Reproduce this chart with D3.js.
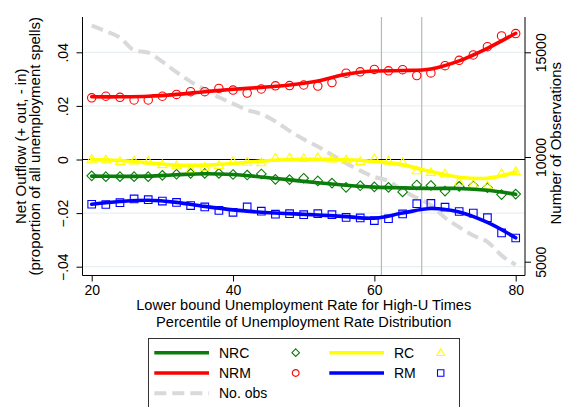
<!DOCTYPE html>
<html><head><meta charset="utf-8">
<script src="https://cdn.jsdelivr.net/npm/d3@7"></script>
<style>
body{margin:0;background:#fff}
svg{display:block}
text{font-family:"Liberation Sans",Arial,Helvetica,sans-serif;fill:#000;font-size:14px}
text.ttl{font-size:15px}
text.xttl{font-size:14.6px}
</style>
</head><body>
<svg id="c" width="585" height="407"></svg>
<script>
// ---- data ----
const pctPoints = [20,22,24,26,28,30,32,34,36,38,40,42,44,46,48,50,52,54,56,58,60,62,64,66,68,70,72,74,76,78,80];
const nrcPts = [-0.0061,-0.0064,-0.0064,-0.0064,-0.0064,-0.0059,-0.0055,-0.0052,-0.0052,-0.0052,-0.0056,-0.0058,-0.0054,-0.0074,-0.0075,-0.0070,-0.0080,-0.0088,-0.0104,-0.0098,-0.0102,-0.0104,-0.0121,-0.0095,-0.0097,-0.0118,-0.0100,-0.0098,-0.0105,-0.0131,-0.0129];
const nrmPts = [0.0230,0.0236,0.0232,0.0222,0.0222,0.0236,0.0243,0.0253,0.0253,0.0265,0.0259,0.0248,0.0263,0.0275,0.0276,0.0278,0.0274,0.0287,0.0322,0.0327,0.0336,0.0331,0.0335,0.0313,0.0323,0.0350,0.0370,0.0390,0.0421,0.0461,0.0470];
const rcPts = [0.0002,0.0000,-0.0006,-0.0004,-0.0005,-0.0018,-0.0022,-0.0036,-0.0028,-0.0021,-0.0006,-0.0009,-0.0011,0.0007,0.0007,0.0005,0.0009,0.0003,-0.0001,-0.0006,0.0004,-0.0004,-0.0010,-0.0041,-0.0047,-0.0052,-0.0084,-0.0091,-0.0097,-0.0051,-0.0044];
const rmPts = [-0.0167,-0.0168,-0.0161,-0.0147,-0.0150,-0.0155,-0.0160,-0.0172,-0.0177,-0.0190,-0.0197,-0.0177,-0.0193,-0.0204,-0.0202,-0.0206,-0.0202,-0.0206,-0.0216,-0.0218,-0.0228,-0.0221,-0.0203,-0.0165,-0.0164,-0.0178,-0.0194,-0.0200,-0.0217,-0.0274,-0.0293];
const nObs = [16270,16000,15700,15100,14980,14550,14050,13600,13220,12850,12550,12250,12050,11700,11250,10850,10500,10100,9700,9350,9050,8850,8400,8050,7700,7100,6650,6250,5950,5300,4850];

const smoothX = [20,24,28,32,36,40,44,48,52,56,60,64,68,72,76,80];
const nrcFit = [-0.0062,-0.0063,-0.0062,-0.0057,-0.0053,-0.0056,-0.0065,-0.0076,-0.0087,-0.0096,-0.0103,-0.0106,-0.0108,-0.0108,-0.0115,-0.0130];
const nrmFit = [0.0234,0.0234,0.0236,0.0243,0.0253,0.0262,0.0269,0.0278,0.0293,0.0318,0.0330,0.0332,0.0338,0.0368,0.0415,0.0471];
const rcFit = [0.0000,-0.0004,-0.0012,-0.0021,-0.0021,-0.0015,-0.0006,0.0000,0.0001,-0.0001,-0.0007,-0.0020,-0.0045,-0.0066,-0.0070,-0.0047];
const rmFit = [-0.0167,-0.0157,-0.0152,-0.0160,-0.0175,-0.0188,-0.0197,-0.0202,-0.0207,-0.0213,-0.0219,-0.0200,-0.0183,-0.0196,-0.0235,-0.0292];

const xTicks = [20,40,60,80];
const yTicks = [-0.04,-0.02,0,0.02,0.04];
const yRTicks = [5000,10000,15000];
const vLines = [61,66.7];

// ---- layout ----
const svg = d3.select("#c");
const L = 82.5, R = 525, T = 17, B = 275.5;
const x = d3.scaleLinear().domain([20,80]).range([91.7,515.7]);
const y = d3.scaleLinear().domain([-0.04,0.04]).range([266.7,52.3]);
const yR = d3.scaleLinear().domain([5000,15000]).range([261.7,52.3]);

const C = {nrc:"#0a7d0a", nrm:"#ff0000", rc:"#ffff00", rm:"#0000ff", obs:"#d9d9d9"};

svg.append("rect").attr("width",585).attr("height",407).attr("fill","#fff");

// grid
svg.append("g").selectAll("line").data(yTicks.filter(d=>d!==0)).join("line")
  .attr("x1",L).attr("x2",R).attr("y1",d=>y(d)).attr("y2",d=>y(d))
  .attr("stroke","#e3ecef").attr("stroke-width",1);
// vertical lines
svg.append("g").selectAll("line").data(vLines).join("line")
  .attr("x1",d=>x(d)).attr("x2",d=>x(d)).attr("y1",T).attr("y2",B)
  .attr("stroke","#b8b8b8").attr("stroke-width",1.2);
// zero line
svg.append("line").attr("x1",L).attr("x2",R).attr("y1",y(0)).attr("y2",y(0))
  .attr("stroke","#000").attr("stroke-width",1.2);

// No. obs dashed
svg.append("path").datum(nObs)
  .attr("d", d3.line().x((d,i)=>x(pctPoints[i])).y(d=>yR(d)).curve(d3.curveMonotoneX))
  .attr("fill","none").attr("stroke",C.obs).attr("stroke-width",4).attr("stroke-dasharray","12,6");

// marker shapes
const shapes = {
  diamond: s => `M0,${-s}L${s},0L0,${s}L${-s},0Z`,
  circle: s => `M${s},0A${s},${s} 0 1,1 ${-s},0A${s},${s} 0 1,1 ${s},0Z`,
  triangle: s => `M0,${-s}L${s*1.05},${s*0.75}L${-s*1.05},${s*0.75}Z`,
  square: s => `M${-s},${-s}H${s}V${s}H${-s}Z`
};
const series = [
  {pts:nrcPts, fit:nrcFit, col:C.nrc, shape:"diamond", size:4.8, lsize:3.8},
  {pts:nrmPts, fit:nrmFit, col:C.nrm, shape:"circle", size:4.2, lsize:3.4},
  {pts:rcPts, fit:rcFit, col:C.rc, shape:"triangle", size:4.4, lsize:3.8},
  {pts:rmPts, fit:rmFit, col:C.rm, shape:"square", size:3.8, lsize:3.2}
];
series.forEach(s=>{
  svg.append("g").selectAll("path").data(s.pts).join("path")
    .attr("transform",(d,i)=>`translate(${x(pctPoints[i])},${y(d)})`)
    .attr("d",shapes[s.shape](s.size)).attr("fill","none").attr("stroke",s.col).attr("stroke-width",1.1);
});
series.forEach(s=>{
  svg.append("path").datum(s.fit)
    .attr("d", d3.line().x((d,i)=>x(smoothX[i])).y(d=>y(d)).curve(d3.curveCatmullRom.alpha(0.5)))
    .attr("fill","none").attr("stroke",s.col).attr("stroke-width",3.6).attr("stroke-linecap","round");
});

// axes frame lines
svg.append("line").attr("x1",L).attr("x2",L).attr("y1",T).attr("y2",B).attr("stroke","#000");
svg.append("line").attr("x1",R).attr("x2",R).attr("y1",T).attr("y2",B).attr("stroke","#000");
svg.append("line").attr("x1",L).attr("x2",R).attr("y1",B).attr("y2",B).attr("stroke","#000");

const fmtL = d => d===0 ? "0" : d3.format(".2f")(d).replace("0.",".");
const gL = svg.append("g").attr("transform",`translate(${L},0)`)
  .call(d3.axisLeft(y).tickValues(yTicks).tickFormat(fmtL).tickSize(6).tickSizeOuter(0));
gL.select(".domain").remove();
gL.selectAll("text").attr("x",0).attr("dy",0).attr("text-anchor","middle")
  .attr("transform","translate(-14.5,0) rotate(-90)").attr("font-size",14).attr("font-family",null);

const gR = svg.append("g").attr("transform",`translate(${R},0)`)
  .call(d3.axisRight(yR).tickValues(yRTicks).tickSize(6).tickSizeOuter(0).tickFormat(d3.format("d")));
gR.select(".domain").remove();
gR.selectAll("text").attr("x",0).attr("dy",0).attr("text-anchor","middle")
  .attr("transform","translate(20.5,0) rotate(-90)").attr("font-size",14).attr("font-family",null);

const gB = svg.append("g").attr("transform",`translate(0,${B})`)
  .call(d3.axisBottom(x).tickValues(xTicks).tickSize(6).tickSizeOuter(0).tickFormat(d3.format("d")));
gB.select(".domain").remove();
gB.selectAll("text").attr("y",19.5).attr("dy",0).attr("font-size",14).attr("font-family",null);
svg.selectAll(".tick line").attr("stroke","#000");

// titles
const midY = (T+B)/2, midX = (L+R)/2;
svg.append("text").attr("class","ttl").attr("transform",`translate(25.5,${midY}) rotate(-90)`).attr("text-anchor","middle").text("Net Outflow (+ out, - in)");
svg.append("text").attr("class","ttl").attr("transform",`translate(40,${midY}) rotate(-90)`).attr("text-anchor","middle").text("(proportion of all unemployment spells)");
svg.append("text").attr("class","ttl").attr("transform",`translate(560.5,${midY-3}) rotate(-90)`).attr("text-anchor","middle").text("Number of Observations");
svg.append("text").attr("class","xttl").attr("x",midX).attr("y",310).attr("text-anchor","middle").text("Lower bound Unemployment Rate for High-U Times");
svg.append("text").attr("class","xttl").attr("x",midX).attr("y",326.5).attr("text-anchor","middle").text("Percentile of Unemployment Rate Distribution");

// legend
const lg = svg.append("g");
lg.append("rect").attr("x",148.5).attr("y",338.5).attr("width",311).attr("height",80)
  .attr("fill","#fff").attr("stroke","#333").attr("stroke-width",1);
const legItems = [
  {label:"NRC", s:series[0], col:0, row:0},
  {label:"RC", s:series[2], col:1, row:0},
  {label:"NRM", s:series[1], col:0, row:1},
  {label:"RM", s:series[3], col:1, row:1}
];
const colX = [{l1:154.3,l2:209,tx:219,mx:295.7},{l1:329.3,l2:384,tx:394,mx:440.7}];
const rowY = [352.7,373,393.3];
legItems.forEach(it=>{
  const c = colX[it.col], yy = rowY[it.row];
  lg.append("line").attr("x1",c.l1).attr("x2",c.l2).attr("y1",yy).attr("y2",yy)
    .attr("stroke",it.s.col).attr("stroke-width",3.6);
  lg.append("text").attr("x",c.tx).attr("y",yy+5).text(it.label);
  lg.append("path").attr("transform",`translate(${c.mx},${yy})`).attr("d",shapes[it.s.shape](it.s.lsize))
    .attr("fill","none").attr("stroke",it.s.col).attr("stroke-width",1.1);
});
lg.append("line").attr("x1",colX[0].l1).attr("x2",colX[0].l2).attr("y1",rowY[2]).attr("y2",rowY[2])
  .attr("stroke",C.obs).attr("stroke-width",4).attr("stroke-dasharray","12,6");
lg.append("text").attr("x",colX[0].tx).attr("y",rowY[2]+5).text("No. obs");
</script>
</body></html>
